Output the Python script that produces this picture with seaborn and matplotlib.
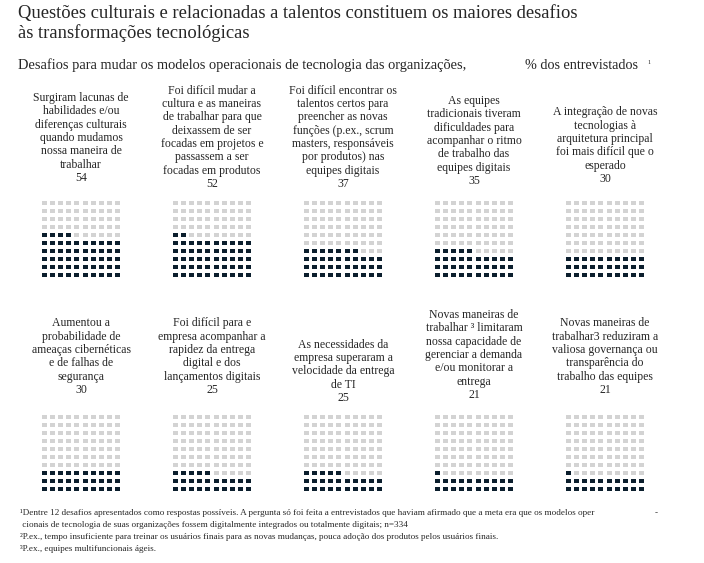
import matplotlib

matplotlib.use("Agg")
import matplotlib.pyplot as plt
import numpy as np
import seaborn as sns
from matplotlib.colors import ListedColormap

sns.set_theme(style="white")
plt.rcParams["font.family"] = ["Liberation Serif", "DejaVu Serif"]

W, H = 704, 563
FILLED = "#0b1e2d"
EMPTY = "#d3d3d3"

# valores (% dos entrevistados)
row1_values = [54, 52, 37, 35, 30]
row2_values = [30, 25, 25, 21, 21]

row1_labels = [
    "Surgiram lacunas de\nhabilidades e/ou\ndiferenças culturais\nquando mudamos\nnossa maneira de\ntrabalhar",
    "Foi difícil mudar a\ncultura e as maneiras\nde trabalhar para que\ndeixassem de ser\nfocadas em projetos e\npassassem a ser\nfocadas em produtos",
    "Foi difícil encontrar os\ntalentos certos para\npreencher as novas\nfunções (p.ex., scrum\nmasters, responsáveis\npor produtos) nas\nequipes digitais",
    "As equipes\ntradicionais tiveram\ndificuldades para\nacompanhar o ritmo\nde trabalho das\nequipes digitais",
    "A integração de novas\ntecnologias à\narquitetura principal\nfoi mais difícil que o\nesperado",
]
row2_labels = [
    "Aumentou a\nprobabilidade de\nameaças cibernéticas\ne de falhas de\nsegurança",
    "Foi difícil para e\nempresa acompanhar a\nrapidez da entrega\ndigital e dos\nlançamentos digitais",
    "As necessidades da\nempresa superaram a\nvelocidade da entrega\nde TI",
    "Novas maneiras de\ntrabalhar ³ limitaram\nnossa capacidade de\ngerenciar a demanda\ne/ou monitorar a\nentrega",
    "Novas maneiras de\ntrabalhar3 reduziram a\nvaliosa governança ou\ntransparência do\ntrabalho das equipes",
]

title_lines = [
    "Questões culturais e relacionadas a talentos constituem os maiores desafios",
    "às transformações tecnológicas",
]
subtitle = "Desafios para mudar os modelos operacionais de tecnologia das organizações,"
unit = "% dos entrevistados"
footnotes = [
    "¹Dentre 12 desafios apresentados como respostas possíveis. A pergunta só foi feita a entrevistados que haviam afirmado que a meta era que os modelos oper",
    " cionais de tecnologia de suas organizações fossem digitalmente integrados ou totalmente digitais; n=334",
    "²P.ex., tempo insuficiente para treinar os usuários finais para as novas mudanças, pouca adoção dos produtos pelos usuários finais.",
    "³P.ex., equipes multifuncionais ágeis.",
]

# posicoes em pixels
panel_x = [81, 212, 343, 474, 605]
row1_text_bottom = [184, 190, 190, 187, 185]
row2_text_bottom = [396, 396, 404, 401, 396]


def fx(x):
    return x / W


def fy(y):
    return 1 - y / H


def waffle_matrix(value):
    # preenche de baixo para cima, da esquerda para a direita
    idx = np.arange(100).reshape(10, 10)[::-1]
    return (idx < value).astype(int)


def draw_waffle(fig, cx, top, value):
    w, h = 82, 80
    ax = fig.add_axes([fx(cx - w / 2), fy(top + h), w / W, h / H])
    sns.heatmap(
        waffle_matrix(value),
        ax=ax,
        cmap=ListedColormap([EMPTY, FILLED]),
        vmin=0,
        vmax=1,
        cbar=False,
        linewidths=1.5,
        linecolor="white",
        xticklabels=False,
        yticklabels=False,
    )
    for coll in ax.collections:
        coll.set_snap(False)
    ax.set_axis_off()


fig = plt.figure(figsize=(W / 100, H / 100), dpi=100)

fig.text(fx(18), fy(18), title_lines[0], ha="left", va="baseline", fontsize=13.4)
fig.text(fx(18), fy(38), title_lines[1], ha="left", va="baseline", fontsize=13.4)
fig.text(fx(18), fy(69), subtitle, ha="left", va="baseline", fontsize=10.4)
fig.text(fx(525), fy(69), unit, ha="left", va="baseline", fontsize=10.2)
fig.text(fx(647), fy(62), "1", ha="left", va="center", fontsize=4.5)

for row_values, row_labels, bottoms, grid_top in (
    (row1_values, row1_labels, row1_text_bottom, 199),
    (row2_values, row2_labels, row2_text_bottom, 413),
):
    for cx, value, label, bottom in zip(panel_x, row_values, row_labels, bottoms):
        fig.text(fx(cx), fy(bottom), f"{label}\n{value}", ha="center", va="bottom",
                 multialignment="center", fontsize=8.5, linespacing=1.15)
        draw_waffle(fig, cx, grid_top, value)

for i, line in enumerate(footnotes):
    fig.text(fx(20), fy(513 + i * 12), line, ha="left", va="center", fontsize=6.6)
fig.text(fx(655), fy(513), "-", ha="left", va="center", fontsize=6.6)

fig.savefig("out.png", dpi=100)
